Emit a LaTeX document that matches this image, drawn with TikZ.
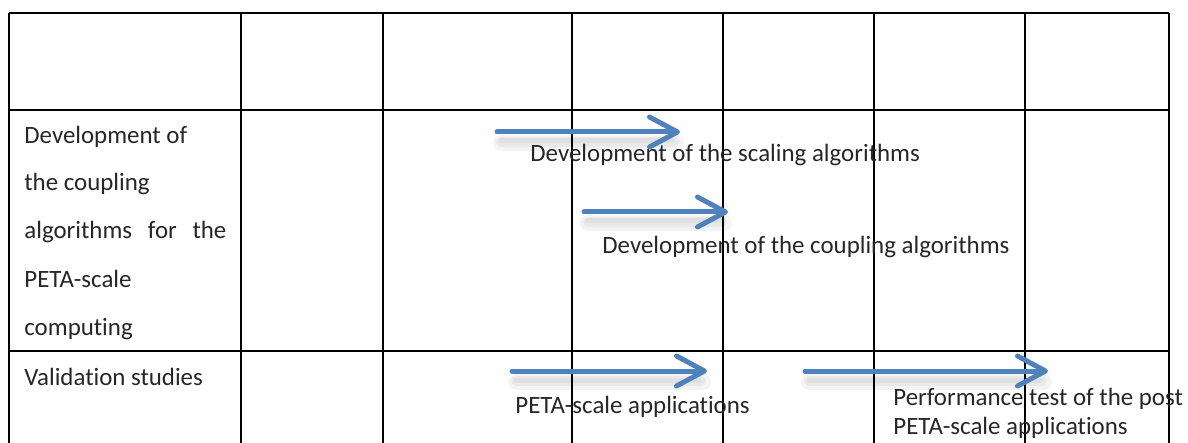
\documentclass[tikz,border=0pt]{standalone}
\usepackage{fontspec}
\setmainfont{Carlito}[Ligatures=NoCommon]
\usetikzlibrary{arrows.meta}
\definecolor{officeblue}{RGB}{79,129,189}

\begin{document}
\begin{tikzpicture}[%
        x=.5pt, y=-.5pt,
        font=\fontsize{12.45}{24}\selectfont,
        grid/.style={ line width=1pt, draw=black },%
        task/.style={ line width=2.5pt, draw=officeblue, line cap=round, -{Straight Barb[length=14pt,width=15pt,round]} },%
        taskshadow/.style={ line width=8pt, draw=black, opacity=.045, line cap=round },%
        label/.style={ anchor=base west, inner sep=0pt, text=black!85, align=left }%
      ]
      \useasboundingbox (0,0) rectangle (1188,443);
      % table grid
      \foreach \x in {8.5,241,383,572,723,874,1025,1169}
        \draw [grid] (\x,13) -- (\x,460);
      \foreach \y in {13,110,351}
        \draw [grid] (8.5,\y) -- (1169,\y);
      % row headings (base = last line)
      \node (coupling) at (24,335) [label]{Development of\\the coupling\\\makebox[101pt][s]{algorithms for the}\\PETA-scale\\computing};
      \node (valid) at (24,385) [label]{Validation studies};
      % task arrows
      \coordinate (scaleA) at (497,132);  \coordinate (scaleB) at (680,132);
      \coordinate (coupA) at (584,212);   \coordinate (coupB) at (728,212);
      \coordinate (petaA) at (512,371);   \coordinate (petaB) at (707,371);
      \coordinate (perfA) at (805,371);   \coordinate (perfB) at (1048,371);
      \foreach \a/\b in {scaleA/scaleB,coupA/coupB,petaA/petaB,perfA/perfB}{
        \draw [taskshadow] ([shift={(4,11)}]\a) -- ([shift={(-4,11)}]\b);
        \draw [taskshadow,line width=5pt] ([shift={(4,10)}]\a) -- ([shift={(-6,10)}]\b);
        \draw [taskshadow,line width=2.5pt] ([shift={(4,9)}]\a) -- ([shift={(-8,9)}]\b);
        \draw [task] (\a) -- (\b);
      }
      % task labels
      \node (scaletxt) at (530,162) [label]{Development of the scaling algorithms};
      \node (couptxt) at (602,254) [label]{Development of the coupling algorithms};
      \node (petatxt) at (515,413) [label]{PETA-scale applications};
      \node (perftxt) at (893,434) [label,font=\fontsize{12.45}{14.2}\selectfont]{Performance test of the post\\PETA-scale applications};
    \end{tikzpicture}
\end{document}
